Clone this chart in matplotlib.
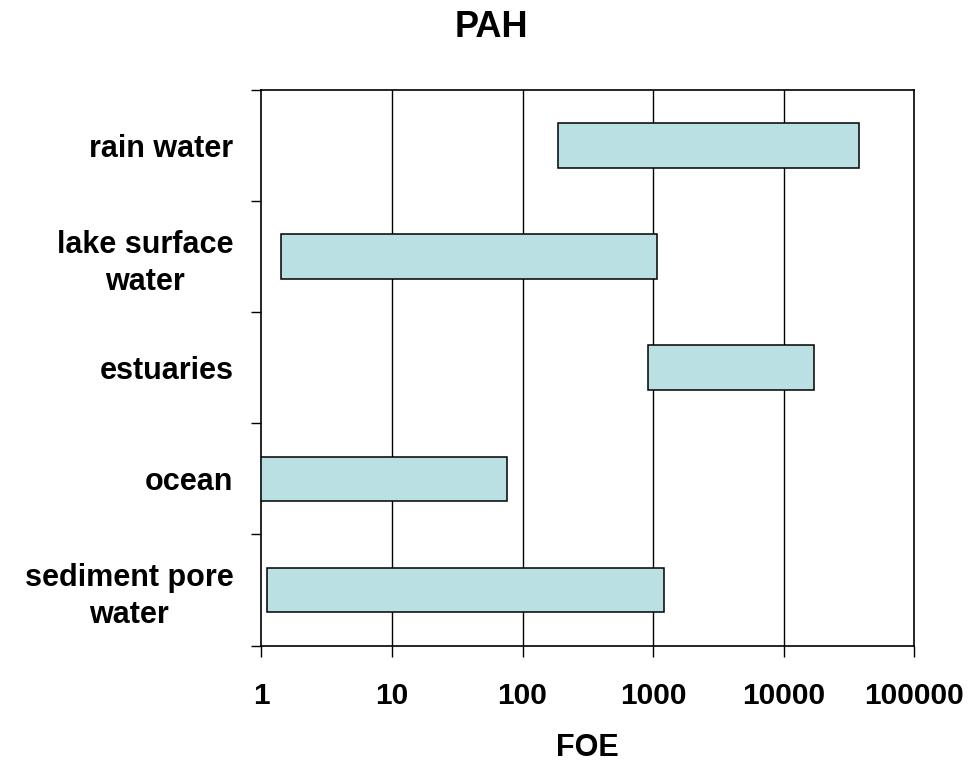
import matplotlib
matplotlib.use('Agg')
import matplotlib.pyplot as plt
import numpy as np

# data (FOE ranges, log scale)
categories = ['rain water', 'lake surface\nwater', 'estuaries', 'ocean', 'sediment pore\nwater']
foe_low = [187, 1.41, 906, 1.0, 1.11]
foe_high = [37400, 1065, 17200, 76, 1205]
x_ticks = [1, 10, 100, 1000, 10000, 100000]
x_tick_labels = ['1', '10', '100', '1000', '10000', '100000']


def plot_ranges():
    plt.rcParams['font.family'] = ['Liberation Sans', 'DejaVu Sans']
    plt.rcParams['font.weight'] = 'bold'

    fig = plt.figure(figsize=(9.68, 7.62), dpi=100)
    ax = fig.add_axes([261.3 / 968, 1 - 645.5 / 762, 653 / 968, 555.8 / 762])

    n = len(categories)
    y = np.arange(n)[::-1]
    low = np.array(foe_low)
    high = np.array(foe_high)
    ax.barh(y, high - low, left=low, height=0.4, color='#BBE0E3',
            edgecolor='black', linewidth=1.1, zorder=3)

    # axes, limits and ticks
    ax.set_xscale('log')
    ax.set_xlim(x_ticks[0], x_ticks[-1])
    ax.set_ylim(-0.5, n - 0.5)
    ax.set_xticks(x_ticks)
    ax.set_xticklabels(x_tick_labels)
    ax.xaxis.set_minor_locator(matplotlib.ticker.NullLocator())
    ax.tick_params(axis='x', which='major', direction='out', length=8, width=1.0,
                   pad=18, labelsize=21.5, colors='black')

    ax.set_yticks(y)
    ax.set_yticklabels(categories, fontsize=22, linespacing=1.3, multialignment='center')
    ax.set_yticks(np.arange(n + 1) - 0.5, minor=True)
    ax.tick_params(axis='y', which='major', length=0, pad=20)
    ax.tick_params(axis='y', which='minor', direction='out', length=7.5, width=1.0)

    for g in x_ticks[1:-1]:
        ax.axvline(g, color='black', linewidth=1.0, zorder=1)

    for s in ax.spines.values():
        s.set_linewidth(1.2)
        s.set_color('black')

    ax.set_xlabel('FOE', fontsize=22, fontweight='bold', labelpad=17)
    fig.text(491.5 / 968, 1 - 37 / 762, 'PAH', ha='center', va='baseline',
             fontsize=26, fontweight='bold')

    fig.savefig('out.png', dpi=100)


def main():
    plot_ranges()


if __name__ == '__main__':
    main()
